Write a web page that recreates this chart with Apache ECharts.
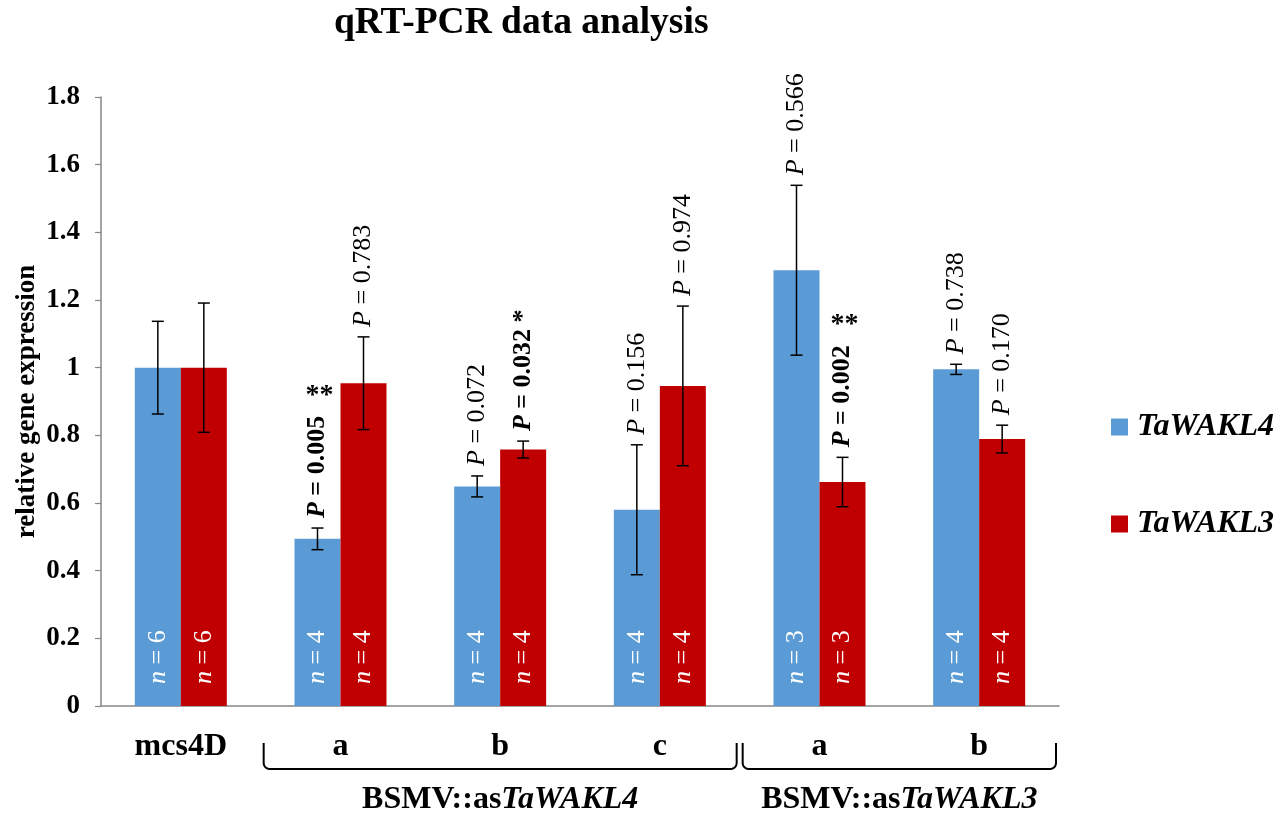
<!DOCTYPE html>
<html><head><meta charset="utf-8">
<script src="https://cdn.jsdelivr.net/npm/echarts@6/dist/echarts.min.js"></script>
<style>html,body{margin:0;padding:0;background:#fff}#c{width:1278px;height:814px}</style>
</head><body><div id="c"></div>
<script>
// ---------------- data ----------------
const categories = ['mcs4D', 'a', 'b', 'c', 'a', 'b'];
const seriesNames = ['TaWAKL4', 'TaWAKL3'];
const blueVals = [1.0, 0.494, 0.649, 0.580, 1.288, 0.995];
const blueErr  = [0.137, 0.032, 0.031, 0.192, 0.251, 0.015];
const redVals  = [1.0, 0.954, 0.758, 0.946, 0.662, 0.789];
const redErr   = [0.191, 0.137, 0.025, 0.236, 0.073, 0.041];
const blueN = [6, 4, 4, 4, 3, 4];
const redN  = [6, 4, 4, 4, 3, 4];
const blueP = ['', '0.005', '0.072', '0.156', '0.566', '0.738'];
const redP  = ['', '0.783', '0.032', '0.974', '0.002', '0.170'];
const blueSig = ['', '**', '', '', '', ''];
const redSig  = ['', '', '*', '', '**', ''];
const groupPrefix = ['BSMV::as', 'BSMV::as'];
const groupGene = ['TaWAKL4', 'TaWAKL3'];
const groupStart = [1, 4];
const groupEnd = [3, 5];
const yTicks = { min: 0, max: 1.8, interval: 0.2 };

// ---------------- style ----------------
const FF = '"Liberation Serif", "Times New Roman", serif';
const BLUE = '#5B9BD5', RED = '#C00000', AXIS = '#868686';
const BAR_W = 46, GAP = 10, PFS = 26;

const measureCtx = document.createElement('canvas').getContext('2d');
function tw(font, s) { measureCtx.font = font; return measureCtx.measureText(s).width; }

function errSeries(sIdx, vals, errs, pv, sig) {
  return {
    type: 'custom',
    data: vals.map((v, i) => [i, v - errs[i], v + errs[i], v]),
    encode: { x: 0, y: [1, 2] },
    z: 5,
    silent: true,
    renderItem(params, api) {
      const i = api.value(0);
      const lo = api.coord([i, api.value(1)]);
      const hi = api.coord([i, api.value(2)]);
      const x = lo[0] + (sIdx === 0 ? -1 : 1) * BAR_W / 2;
      const cap = 6;
      const children = [
        { type: 'line', shape: { x1: x, y1: lo[1], x2: x, y2: hi[1] }, style: { stroke: '#000', lineWidth: 1.5 } },
        { type: 'line', shape: { x1: x - cap, y1: hi[1], x2: x + cap, y2: hi[1] }, style: { stroke: '#000', lineWidth: 1.5 } },
        { type: 'line', shape: { x1: x - cap, y1: lo[1], x2: x + cap, y2: lo[1] }, style: { stroke: '#000', lineWidth: 1.5 } }
      ];
      const p = pv[i];
      if (p) {
        const s = sig[i];
        const bold = !!s;
        const w = bold ? 'bold' : 'normal';
        const rest = ' = ' + p + (s === '*' ? ' *' : '');
        const fontP = 'italic ' + w + ' ' + PFS + 'px ' + FF;
        const fontR = w + ' ' + PFS + 'px ' + FF;
        const len = tw(fontP, 'P') + tw(fontR, rest);
        const y0 = hi[1] - GAP;
        children.push({
          type: 'text', x: x, y: y0, rotation: Math.PI / 2,
          style: {
            text: '{p|P}{r|' + rest + '}',
            rich: {
              p: { fontStyle: 'italic', fontWeight: w, fontSize: PFS, fontFamily: FF, fill: '#000' },
              r: { fontStyle: 'normal', fontWeight: w, fontSize: PFS, fontFamily: FF, fill: '#000' }
            },
            fill: '#000', fontSize: PFS, fontFamily: FF,
            align: 'left', verticalAlign: 'middle'
          }
        });
        if (s === '**') {
          children.push({
            type: 'text', x: x + 2, y: y0 - len - 20,
            style: { text: '**', fontSize: 28, fontWeight: 'bold', fontFamily: FF, fill: '#000', align: 'center', verticalAlign: 'middle' }
          });
        }
      }
      return { type: 'group', children };
    }
  };
}

function barSeries(name, vals, ns, color) {
  return {
    type: 'bar', name, data: vals, barWidth: BAR_W, barGap: '0%',
    itemStyle: { color },
    z: 2,
    label: {
      show: true, position: 'insideBottom', distance: 22, rotate: 90,
      align: 'left', verticalAlign: 'middle',
      formatter: p => '{i|n} = ' + ns[p.dataIndex],
      color: '#fff', fontSize: 26, fontFamily: FF,
      rich: { i: { fontStyle: 'italic', fontSize: 26, fontFamily: FF, color: '#fff' } }
    }
  };
}

const chart = echarts.init(document.getElementById('c'));
chart.setOption({
  animation: false,
  backgroundColor: '#fff',
  title: {
    text: 'qRT-PCR data analysis', left: 334, top: 4, padding: 0,
    textStyle: { fontFamily: FF, fontWeight: 'bold', fontSize: 37.5, color: '#000' }
  },
  legend: {
    orient: 'vertical', left: 1111, top: 411, itemGap: 65, padding: 0,
    itemWidth: 17, itemHeight: 17, icon: 'rect',
    data: seriesNames,
    textStyle: { fontFamily: FF, fontWeight: 'bold', fontStyle: 'italic', fontSize: 32, color: '#000', lineHeight: 32, padding: [0, 0, 0, 4] }
  },
  grid: { left: 101, right: 219, top: 97, bottom: 108, containLabel: false },
  xAxis: {
    type: 'category', data: categories,
    axisLine: { lineStyle: { color: AXIS, width: 1.5 } },
    axisTick: { length: 10, lineStyle: { color: AXIS, width: 1.2 } },
    axisLabel: { interval: 0, margin: 25, fontFamily: FF, fontWeight: 'bold', fontSize: 32, color: '#000' }
  },
  yAxis: {
    type: 'value', min: yTicks.min, max: yTicks.max, interval: yTicks.interval,
    name: 'relative gene expression', nameLocation: 'middle', nameGap: 60, nameMoveOverlap: false,
    nameTextStyle: { fontFamily: FF, fontWeight: 'bold', fontSize: 27, color: '#000' },
    axisLine: { show: true, lineStyle: { color: AXIS, width: 1.5 } },
    axisTick: { show: true, length: 6, lineStyle: { color: AXIS, width: 1.2 } },
    splitLine: { show: false },
    axisLabel: { margin: 21, fontFamily: FF, fontWeight: 'bold', fontSize: 27, color: '#000' }
  },
  series: [
    barSeries(seriesNames[0], blueVals, blueN, BLUE),
    barSeries(seriesNames[1], redVals, redN, RED),
    errSeries(0, blueVals, blueErr, blueP, blueSig),
    errSeries(1, redVals, redErr, redP, redSig)
  ]
});

// group brackets and labels under the category axis
function drawGroups() {
  const c0 = chart.convertToPixel({ xAxisIndex: 0 }, 0);
  const c1 = chart.convertToPixel({ xAxisIndex: 0 }, 1);
  const band = c1 - c0;
  const yTop = 743, yBot = 769, r = 6;
  const els = [];
  for (let g = 0; g < groupGene.length; g++) {
    const xa = chart.convertToPixel({ xAxisIndex: 0 }, groupStart[g]) - band / 2 + 3;
    const xb = chart.convertToPixel({ xAxisIndex: 0 }, groupEnd[g]) + band / 2 - 3;
    const pts = [[xa, yTop]];
    for (let k = 0; k <= 6; k++) {
      const a = Math.PI - (Math.PI / 2) * (k / 6);
      pts.push([xa + r + r * Math.cos(a), yBot - r + r * Math.sin(a)]);
    }
    for (let k = 0; k <= 6; k++) {
      const a = Math.PI / 2 - (Math.PI / 2) * (k / 6);
      pts.push([xb - r + r * Math.cos(a), yBot - r + r * Math.sin(a)]);
    }
    pts.push([xb, yTop]);
    els.push({ type: 'polyline', shape: { points: pts }, style: { stroke: '#000', lineWidth: 2, fill: null } });
    els.push({
      type: 'text', x: (xa + xb) / 2, y: 800,
      style: {
        text: '{a|' + groupPrefix[g] + '}{b|' + groupGene[g] + '}',
        rich: {
          a: { fontFamily: FF, fontWeight: 'bold', fontStyle: 'normal', fontSize: 32, fill: '#000' },
          b: { fontFamily: FF, fontWeight: 'bold', fontStyle: 'italic', fontSize: 32, fill: '#000' }
        },
        fill: '#000', fontSize: 32, fontFamily: FF,
        align: 'center', verticalAlign: 'middle'
      }
    });
  }
  chart.setOption({ graphic: els });
}
drawGroups();
</script>
</body></html>
